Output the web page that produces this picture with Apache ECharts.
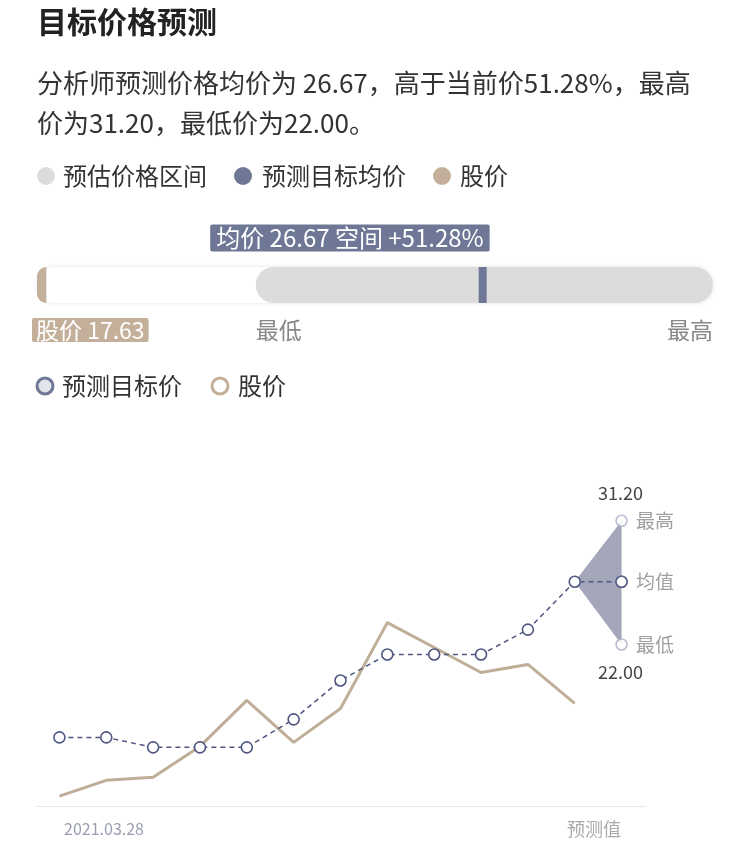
<!DOCTYPE html>
<html><head><meta charset="utf-8">
<script src="https://cdn.jsdelivr.net/npm/echarts@6/dist/echarts.min.js"></script>
<style>html,body{margin:0;padding:0;background:#fff}#c{width:750px;height:854px}</style>
</head><body><div id="c"></div>
<script>
var categories = ['', '2021.03.28', '', '', '', '', '', '', '', '', '', '', '预测值'];
var targetPrice = [15.1, 15.1, 14.36, 14.36, 14.36, 16.44, 19.33, 21.26, 21.26, 21.26, 23.11, 26.67, 26.67];
var stockPrice = [10.73, 11.91, 12.13, 14.43, 17.85, 14.73, 17.25, 23.63, 21.78, 19.92, 20.52, 17.63, null];
var forecastMax = 31.20, forecastMin = 22.00, forecastMean = 26.67, currentPrice = 17.63, upside = '51.28%';
var FONT = '"Noto Sans CJK SC","Noto Sans",sans-serif';
var chart = echarts.init(document.getElementById('c'));
var last = categories.length - 1;
function txt(x, y, s, size, color, weight, align) {
  return {type:'text', x:x, y:y, style:{text:s, font:(weight||'normal')+' '+size+'px '+FONT, fill:color||'#333', align:align||'left', verticalAlign:'middle'}};
}
chart.setOption({
  animation:false,
  graphic:[
    txt(37, 22, '目标价格预测', 30, '#222', 'bold'),
    txt(37, 83, '分析师预测价格均价为 '+forecastMean.toFixed(2)+'，高于当前价'+upside+'，最高', 26, '#333'),
    txt(37, 123, '价为'+forecastMax.toFixed(2)+'，最低价为'+forecastMin.toFixed(2)+'。', 26, '#333'),
    {type:'circle', shape:{cx:46, cy:176, r:9}, style:{fill:'#dcdcdc'}},
    txt(63, 176, '预估价格区间', 24, '#333'),
    {type:'circle', shape:{cx:243, cy:176, r:9}, style:{fill:'#6e7896'}},
    txt(262, 176, '预测目标均价', 24, '#333'),
    {type:'circle', shape:{cx:442, cy:176, r:9}, style:{fill:'#c4b09a'}},
    txt(460, 176, '股价', 24, '#333'),
    {type:'circle', shape:{cx:45, cy:386, r:8}, style:{fill:'#e4e5ec', stroke:'#6e7896', lineWidth:3}},
    txt(62, 386, '预测目标价', 24, '#333'),
    {type:'circle', shape:{cx:220, cy:386, r:8}, style:{fill:'#fff', stroke:'#c4b09a', lineWidth:3}},
    txt(238, 386, '股价', 24, '#333'),
    txt(104, 829, categories[1], 16, '#9a9fb0', 'normal', 'center'),
    txt(621, 829, categories[last], 18, '#aaa', 'normal', 'right')
  ],
  grid:[
    {left:36, right:105, top:510, height:296},
    {left:37, right:37, top:267, height:36}
  ],
  xAxis:[
    {type:'category', gridIndex:0, data:categories, boundaryGap:true,
     axisLine:{lineStyle:{color:'#e6e6e6'}}, axisTick:{show:false}, axisLabel:{show:false}},
    {type:'value', gridIndex:1, min:17.5, max:31.41, show:false}
  ],
  yAxis:[
    {type:'value', gridIndex:0, min:10, max:32, show:false},
    {type:'value', gridIndex:1, min:0, max:1, show:false}
  ],
  series:[
    {type:'custom', xAxisIndex:1, yAxisIndex:1, data:[[forecastMin, forecastMax, forecastMean, currentPrice]],
     renderItem:function(params, api){
       var y0 = api.coord([17.5, 1])[1], y1 = api.coord([17.5, 0])[1], h = y1 - y0;
       var xs = api.coord([17.5, 0])[0], xe = api.coord([31.41, 0])[0];
       var xmin = api.coord([api.value(0), 0])[0], xmean = api.coord([api.value(2), 0])[0];
       var xp = api.coord([api.value(3), 0])[0];
       return {type:'group', children:[
         {type:'rect', shape:{x:xs, y:y0, width:xe-xs, height:h, r:h/2}, style:{fill:'#fff', shadowBlur:4, shadowColor:'rgba(0,0,0,0.12)'}},
         {type:'rect', shape:{x:xmin, y:y0, width:xe-xmin, height:h, r:h/2}, style:{fill:'#dcdcdc'}},
         {type:'rect', shape:{x:xmean-4, y:y0, width:8, height:h}, style:{fill:'#6e7896'}},
         {type:'rect', shape:{x:xs, y:y0, width:Math.max(9, xp-xs+3), height:h, r:[h/2,0,0,h/2]}, style:{fill:'#c4b09a'}},
         {type:'text', x:xmean+7, y:y0-29, style:{text:'均价 '+api.value(2).toFixed(2)+' 空间 +'+upside, font:'24px '+FONT, fill:'#fff', align:'right', verticalAlign:'middle', backgroundColor:'#6e7896', padding:[2,6,1,6], borderRadius:2}},
         {type:'text', x:xs-5, y:y1+27, style:{text:'股价 '+api.value(3).toFixed(2), font:'23px '+FONT, fill:'#fff', align:'left', verticalAlign:'middle', backgroundColor:'#c4b09a', padding:[1,4,0,4], borderRadius:2}},
         {type:'text', x:xmin, y:y1+27, style:{text:'最低', font:'23px '+FONT, fill:'#888', align:'left', verticalAlign:'middle'}},
         {type:'text', x:xe, y:y1+27, style:{text:'最高', font:'23px '+FONT, fill:'#888', align:'right', verticalAlign:'middle'}}
       ]};
     }},
    {type:'custom', data:[[last-1, forecastMean, forecastMax, forecastMin]], z:1,
     renderItem:function(params, api){
       var a = api.coord([api.value(0), api.value(1)]);
       var b = api.coord([last, api.value(2)]);
       var c = api.coord([last, api.value(3)]);
       return {type:'polygon', shape:{points:[a,b,c]}, style:{fill:'#a3a7b9'}};
     }},
    {type:'line', name:'股价', data:stockPrice, symbol:'none', z:2,
     lineStyle:{color:'#bfae98', width:3}},
    {type:'line', name:'预测目标价', data:targetPrice, symbol:'circle', symbolSize:11, z:3,
     lineStyle:{color:'#4f5682', width:1.5, type:[5,4]},
     itemStyle:{color:'#fff', borderColor:'#4f5682', borderWidth:1.6}},
    {type:'scatter', z:4, symbol:'circle', symbolSize:11,
     data:[{value:[last, forecastMax], name:'最高'}, {value:[last, forecastMean], name:'均值', itemStyle:{borderColor:'#4f5682'}}, {value:[last, forecastMin], name:'最低'}],
     itemStyle:{color:'#fff', borderColor:'#a8acc8', borderWidth:1.6},
     label:{show:true, position:'right', distance:8, formatter:'{b}', fontSize:19, color:'#888', fontFamily:FONT}},
    {type:'scatter', z:5, symbol:'circle', symbolSize:1, itemStyle:{color:'rgba(0,0,0,0)'},
     data:[{value:[last, forecastMax], label:{position:'top', distance:18}}, {value:[last, forecastMin], label:{position:'bottom', distance:18}}],
     label:{show:true, offset:[-1,0], formatter:function(p){return p.value[1].toFixed(2);}, fontSize:18, color:'#111', fontFamily:FONT}}
  ]
});
</script></body></html>
